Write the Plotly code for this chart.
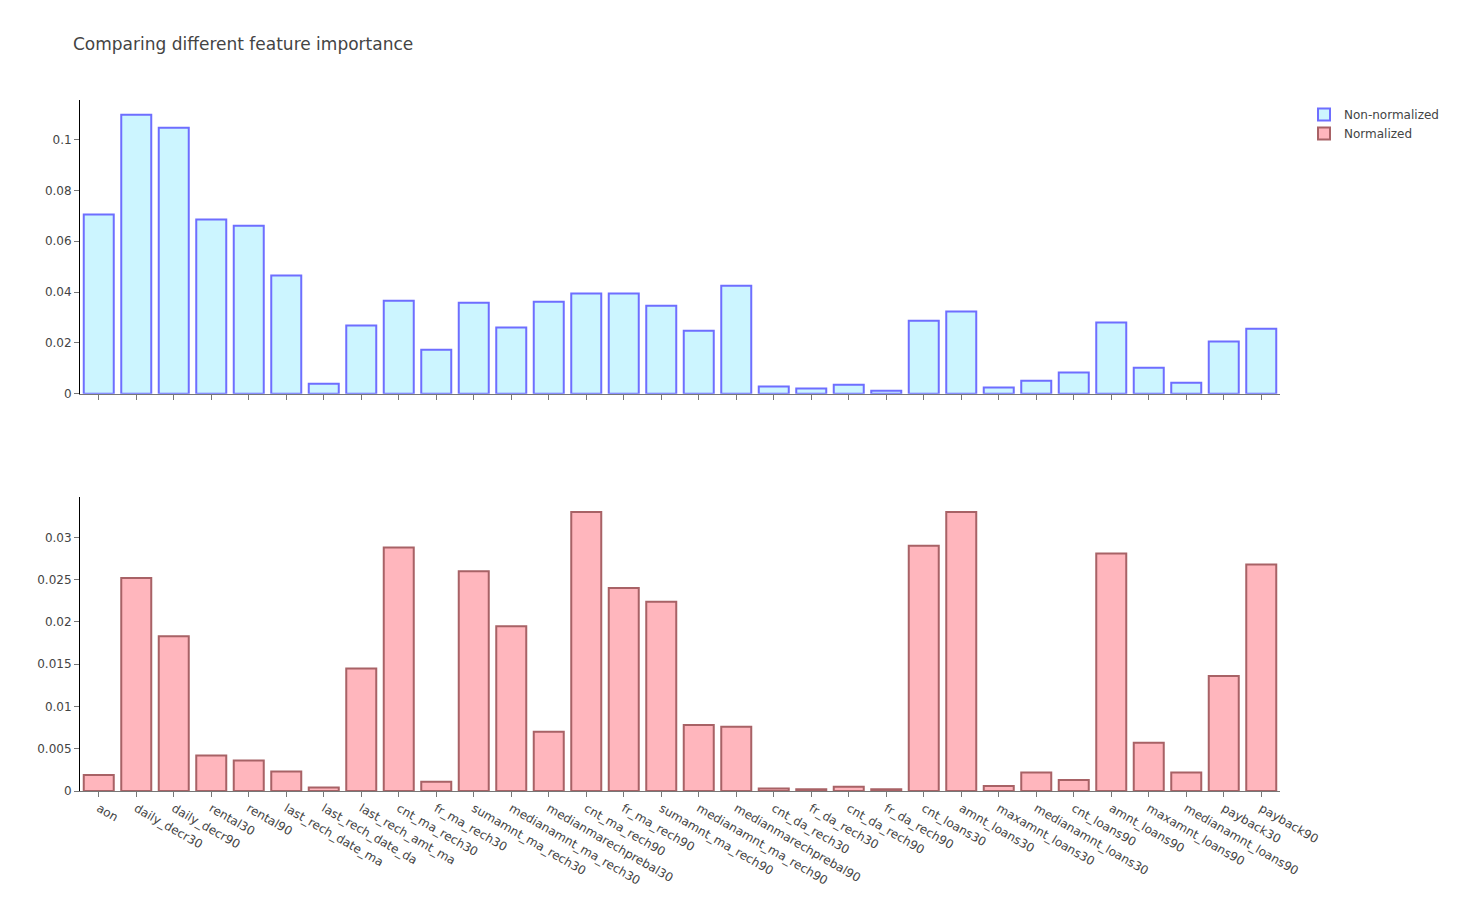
import plotly.graph_objects as go
from plotly.subplots import make_subplots

features = ["aon", "daily_decr30", "daily_decr90", "rental30", "rental90",
            "last_rech_date_ma", "last_rech_date_da", "last_rech_amt_ma",
            "cnt_ma_rech30", "fr_ma_rech30", "sumamnt_ma_rech30",
            "medianamnt_ma_rech30", "medianmarechprebal30", "cnt_ma_rech90",
            "fr_ma_rech90", "sumamnt_ma_rech90", "medianamnt_ma_rech90",
            "medianmarechprebal90", "cnt_da_rech30", "fr_da_rech30",
            "cnt_da_rech90", "fr_da_rech90", "cnt_loans30", "amnt_loans30",
            "maxamnt_loans30", "medianamnt_loans30", "cnt_loans90",
            "amnt_loans90", "maxamnt_loans90", "medianamnt_loans90",
            "payback30", "payback90"]

non_normalized = [0.0705, 0.1098, 0.1047, 0.0685, 0.0661, 0.0465, 0.0039, 0.0268,
                  0.0366, 0.0173, 0.0358, 0.0260, 0.0362, 0.0394, 0.0394, 0.0346,
                  0.0248, 0.0425, 0.0028, 0.0020, 0.0035, 0.0012, 0.0287, 0.0323,
                  0.0024, 0.0051, 0.0083, 0.0280, 0.0102, 0.0043, 0.0205, 0.0256]

normalized = [0.0019, 0.0252, 0.0183, 0.0042, 0.0036, 0.0023, 0.0004, 0.0145,
              0.0288, 0.0011, 0.0260, 0.0195, 0.0070, 0.0330, 0.0240, 0.0224,
              0.0078, 0.0076, 0.0003, 0.0002, 0.0005, 0.0002, 0.0290, 0.0330,
              0.0006, 0.0022, 0.0013, 0.0281, 0.0057, 0.0022, 0.0136, 0.0268]

W, H = 1442, 884

fig = make_subplots(rows=2, cols=1, shared_xaxes=True, vertical_spacing=0.15)

fig.add_trace(go.Bar(x=features, y=non_normalized, name="Non-normalized",
                     marker=dict(color="rgb(204,245,255)",
                                 line=dict(color="rgb(110,110,255)", width=2))),
              row=1, col=1)
fig.add_trace(go.Bar(x=features, y=normalized, name="Normalized",
                     marker=dict(color="rgb(255,182,189)",
                                 line=dict(color="rgb(168,98,102)", width=2))),
              row=2, col=1)

fig.update_layout(
    title=dict(text="Comparing different feature importance",
               x=65 / W, xanchor="left", y=1 - 36 / H, yanchor="middle",
               font=dict(size=17)),
    font=dict(family="DejaVu Sans, Verdana, sans-serif", color="#444"),
    plot_bgcolor="white",
    paper_bgcolor="white",
    width=W, height=H,
    margin=dict(l=72, r=170, t=92, b=101, autoexpand=False),
    legend=dict(x=1.02, xanchor="left", y=1, yanchor="top"),
)
fig.update_xaxes(showline=True, linecolor="#777", linewidth=1, ticks="outside",
                 tickcolor="#777", showgrid=False, zeroline=False, automargin=False)
fig.update_yaxes(showline=True, linecolor="black", linewidth=1, ticks="outside",
                 tickcolor="#777", showgrid=False, zeroline=False, automargin=False)

fig.write_html("out.html")
